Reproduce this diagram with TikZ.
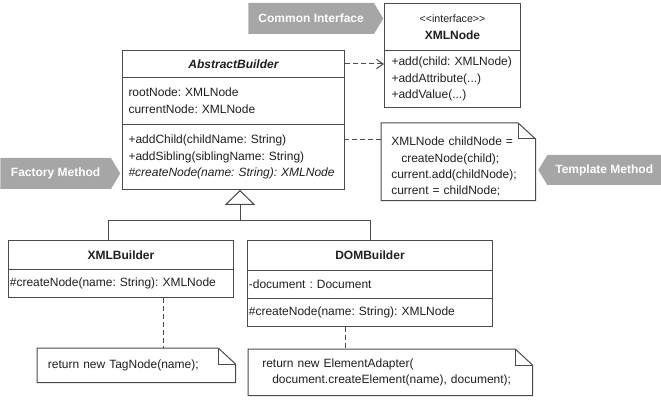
\documentclass[tikz,border=0pt]{standalone}
\usepackage{fontspec}
\setmainfont{Liberation Sans}
\usetikzlibrary{arrows.meta,shapes.symbols}
\frenchspacing
\hyphenpenalty=10000

\definecolor{linegray}{HTML}{4A4A4A}
\definecolor{taggray}{HTML}{A6A6A6}
\definecolor{inkgray}{HTML}{1F1F1F}

% folded corner of a note
\newcommand{\noteframe}[1]{%
  \draw [linegray, line width=0.75pt] (#1.north west) -- ([xshift=-13pt]#1.north east) -- ([yshift=-12pt]#1.north east) -- (#1.south east) -- (#1.south west) -- cycle;
  \draw [linegray, line width=0.75pt] ([xshift=-13pt]#1.north east) |- ([yshift=-12pt]#1.north east);}

\begin{document}
\begin{tikzpicture}[x=0.75pt, y=-0.75pt, text=inkgray, font=\fontsize{9}{12.5}\selectfont]
      \useasboundingbox (0,0) rectangle (661,406);

      \begin{scope}[every node/.style={signal, signal pointer angle=118, fill=taggray, text=white, font=\fontsize{9}{11}\selectfont\bfseries, minimum height=23.25pt, inner xsep=6pt, anchor=west}]
        \node [signal to=east, minimum width=101.25pt] (common) at (248,18.5) {Common Interface};
        \node [signal to=east, minimum width=90pt] (factory) at (0,173.5) {Factory Method};
        \node [signal to=west, minimum width=87.75pt, minimum height=22.5pt] (template) at (538,170) {Template Method};
      \end{scope}

      \begin{scope}[every node/.style={rectangle, draw=linegray, line width=0.75pt, anchor=north west, inner ysep=0pt}]
        % AbstractBuilder
        \node [minimum width=166.5pt, minimum height=20.25pt, font=\fontsize{9}{12.5}\selectfont\bfseries\itshape] (abName) at (122,50) {AbstractBuilder};
        \node [minimum height=35.25pt, text width=157.5pt, inner xsep=4.5pt, align=left] (abAttr) at (122,77) {rootNode: XMLNode\\currentNode: XMLNode};
        \node [minimum height=48.75pt, text width=157.5pt, inner xsep=4.5pt, align=left] (abOps) at (122,124) {+addChild(childName: String)\\+addSibling(siblingName: String)\\\textit{\#createNode(name: String): XMLNode}};
        % XMLNode
        \node [minimum width=102pt, minimum height=35.25pt, align=center] (xnName) at (384,3) {{\fontsize{8}{12.5}\selectfont <{}<interface>{}>}\\\textbf{XMLNode}};
        \node [minimum height=42.75pt, text width=91.5pt, inner xsep=5.25pt, align=left] (xnOps) at (384,50) {+add(child: XMLNode)\\+addAttribute(...)\\+addValue(...)};
        % XMLBuilder
        \node [minimum width=168.75pt, minimum height=21.75pt, font=\fontsize{9}{12.5}\selectfont\bfseries] (xbName) at (8,240) {XMLBuilder};
        \node [minimum height=21pt, text width=166.75pt, inner xsep=1pt, align=left] (xbOps) at (8,269) {\#createNode(name: String): XMLNode};
        % DOMBuilder
        \node [minimum width=183.75pt, minimum height=22.5pt, font=\fontsize{9}{12.5}\selectfont\bfseries] (dbName) at (247,240) {DOMBuilder};
        \node [minimum height=21pt, text width=181.75pt, inner xsep=1pt, align=left] (dbAttr) at (247,270) {-document : Document};
        \node [minimum height=21pt, text width=181.75pt, inner xsep=1pt, align=left] (dbOps) at (247,298) {\#createNode(name: String): XMLNode};
      \end{scope}

      \begin{scope}[every node/.style={rectangle, anchor=north west, inner ysep=0pt, align=left}]
        \node [minimum height=57.75pt, text width=100.5pt, inner xsep=7.5pt, font=\fontsize{9}{12.25}\selectfont] (tmplNote) at (381,123) {\rule{0pt}{14pt}XMLNode childNode =\\\hspace*{7.5pt}createNode(child);\\current.add(childNode);\\current = childNode;};
        \node [minimum height=25.5pt, text width=132.5pt, inner xsep=8pt] (tagNote) at (37,348) {return new TagNode(name);};
        \node [minimum height=34.5pt, text width=192pt, inner xsep=10.5pt, font=\fontsize{9}{12}\selectfont] (elemNote) at (248,349) {return new ElementAdapter(\\\hspace*{7.5pt}document.createElement(name), document);};
      \end{scope}
      \noteframe{tmplNote}
      \noteframe{tagNote}
      \noteframe{elemNote}

      \coordinate (addChild) at (344,140);
      \coordinate (hub) at (240,221);
      \coordinate (xbTop) at (108,240);

      \begin{scope}[linegray, line width=0.75pt]
        \draw [dash pattern=on 3.5pt off 2.5pt, -{Straight Barb[length=5pt, width=7pt]}] (abName.east) to (abName.east -| xnOps.west);
        \draw [dash pattern=on 3.5pt off 2.5pt] (addChild) to (addChild -| tmplNote.west);
        \draw (xbTop) |- (hub);
        \draw (dbName.north) |- (hub);
        \draw [-{Triangle[open, length=11.25pt, width=23pt]}] (hub) to (hub |- abOps.south);
        \draw [dash pattern=on 3.5pt off 2.5pt] (xbOps.south -| 163,0) to (tagNote.north -| 163,0);
        \draw [dash pattern=on 3.5pt off 2.5pt] (dbOps.south -| 345,0) to (elemNote.north -| 345,0);
      \end{scope}
   \end{tikzpicture}
\end{document}
